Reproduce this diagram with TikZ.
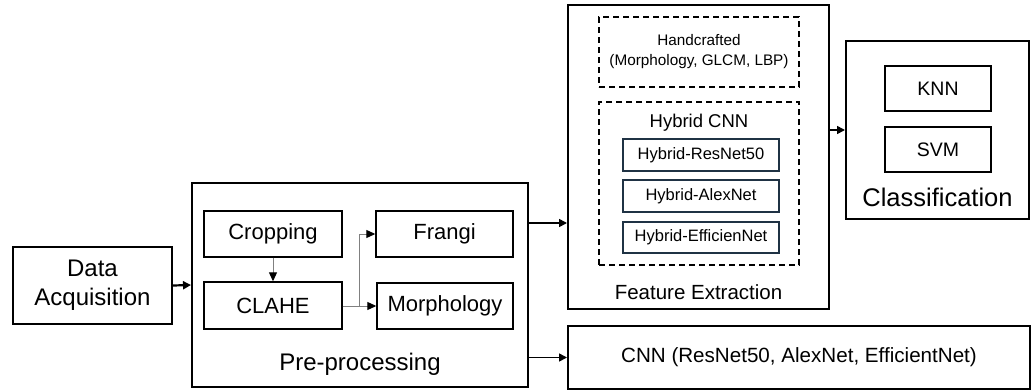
\documentclass[tikz,border=0pt]{standalone}
\usepackage{fontspec}
\setmainfont{Liberation Sans}
\usetikzlibrary{arrows.meta,calc}
\definecolor{slate}{HTML}{1F3244}
\definecolor{lgray}{HTML}{808080}
\begin{document}
\begin{tikzpicture}[x=1pt,y=-1pt,
  outer/.style={draw, line width=2pt, inner sep=0pt, align=center},
  inbox/.style={draw, line width=1.4pt, inner sep=0pt, align=center},
  hbox/.style={draw=slate, line width=1.4pt, inner sep=0pt, font=\fontsize{16.5}{19}\selectfont},
  dbox/.style={draw, dash pattern=on 6pt off 4pt, line width=1.4pt, inner sep=0pt, align=center},
  lbl/.style={inner sep=0pt},
  arr/.style={-{Triangle[length=8pt,width=8pt]}, line width=1.6pt},
  garr/.style={draw=lgray, line width=1pt, -{Triangle[length=9pt,width=8pt,color=black]}}
]
\useasboundingbox (0,0) rectangle (1035,391);

% Data acquisition
\node[outer, minimum width=159pt, minimum height=77pt, font=\fontsize{24}{29}\selectfont] (da) at (92.5,285.5) {Data\\Acquisition};

% Pre-processing
\node[outer, minimum width=336pt, minimum height=204pt] (pre) at (360,285) {};
\node[inbox, minimum width=138pt, minimum height=46pt, font=\fontsize{22}{26}\selectfont] (crop) at (273,234) {Cropping};
\node[inbox, minimum width=138pt, minimum height=47pt, font=\fontsize{22}{26}\selectfont] (clahe) at (273,305.5) {CLAHE};
\node[inbox, minimum width=137pt, minimum height=46pt, font=\fontsize{22}{26}\selectfont] (frangi) at (444.5,234) {Frangi};
\node[inbox, minimum width=136pt, minimum height=46pt, font=\fontsize{22}{26}\selectfont] (morph) at (445,306) {Morphology};
\node[lbl, font=\fontsize{24}{28}\selectfont] (prelbl) at (360,364) {Pre-processing};

% Feature extraction
\node[outer, minimum width=261pt, minimum height=304pt] (fe) at (698.5,157) {};
\node[dbox, minimum width=200pt, minimum height=70pt, font=\fontsize{15.3}{20}\selectfont] (hand) at (699,52) {Handcrafted\\(Morphology, GLCM, LBP)};
\node[dbox, minimum width=200pt, minimum height=163pt] (hyb) at (699,183.5) {};
\node[lbl, font=\fontsize{18.5}{22}\selectfont] (hyblbl) at (699,123) {Hybrid CNN};
\node[hbox, minimum width=156pt, minimum height=32pt] (r50) at (701,155) {Hybrid-ResNet50};
\node[hbox, minimum width=156pt, minimum height=32pt] (alex) at (701,196) {Hybrid-AlexNet};
\node[hbox, minimum width=156pt, minimum height=31pt] (eff) at (701,237.5) {Hybrid-EfficienNet};
\node[lbl, font=\fontsize{20.5}{24}\selectfont] (felbl) at (698.5,292) {Feature Extraction};

% Classification
\node[outer, minimum width=183pt, minimum height=178pt] (cls) at (937.5,130) {};
\node[inbox, minimum width=106pt, minimum height=45pt, font=\fontsize{19.5}{23}\selectfont] (knn) at (938,88.5) {KNN};
\node[inbox, minimum width=106pt, minimum height=45pt, font=\fontsize{19.5}{23}\selectfont] (svm) at (938,149.5) {SVM};
\node[lbl, font=\fontsize{25.5}{30}\selectfont] (clslbl) at (937.5,197) {Classification};

% CNN
\node[outer, minimum width=462pt, minimum height=63pt, font=\fontsize{20.6}{24}\selectfont] (cnn) at (799,357.5) {CNN (ResNet50, AlexNet, EfficientNet)};

% connectors
\draw[arr, line width=2.2pt] (da.east) -- (pre.west);
\draw[garr] (crop.south) -- (clahe.north);
\coordinate (j) at (359,306);
\draw[draw=lgray, line width=1pt] (clahe.east |- j) -- (j);
\draw[garr] (j) |- (frangi.west);
\draw[garr] (j) -- (j -| morph.west);
\draw[arr] ([yshift=62pt]pre.east) -- ([yshift=62pt]pre.east -| fe.west);
\draw[arr] (pre.east |- cnn.west) -- (cnn.west);
\draw[arr] (fe.east |- cls.west) -- (cls.west);
\end{tikzpicture}
\end{document}
